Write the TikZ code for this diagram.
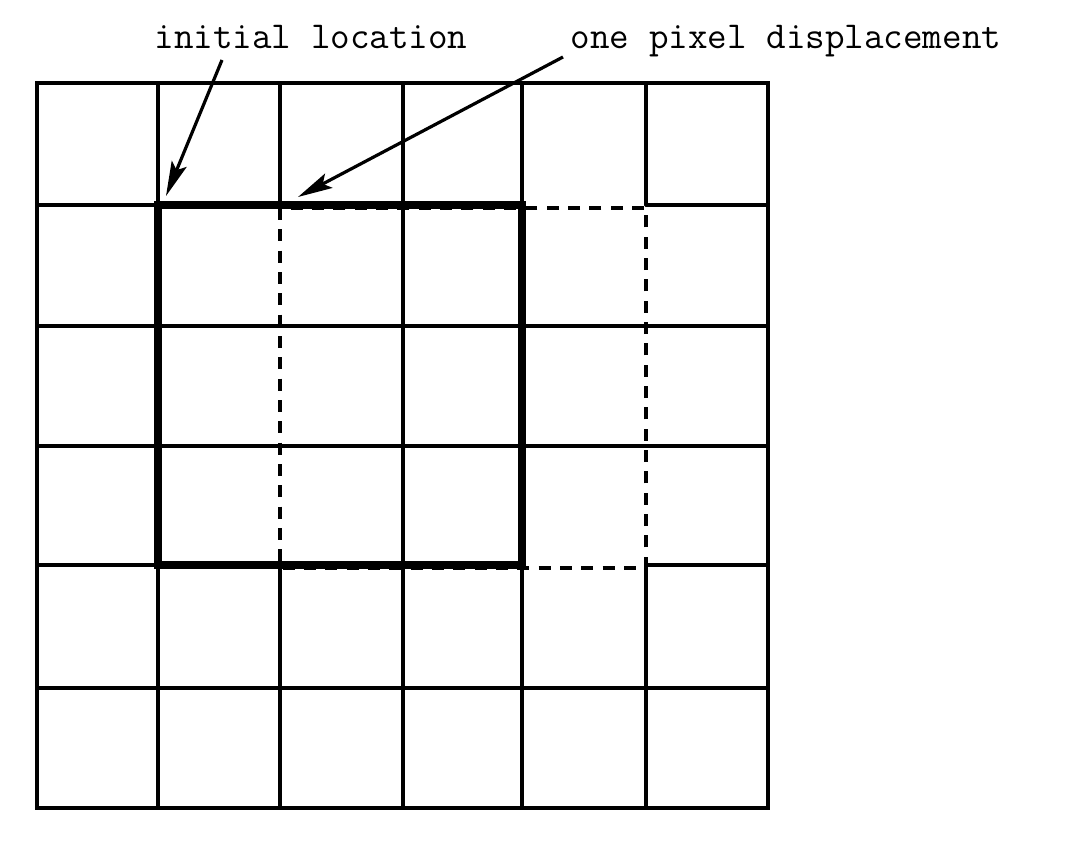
\documentclass[tikz,border=0pt]{standalone}
\usepackage{amsmath}
\usepackage{amssymb}
\usetikzlibrary{arrows.meta}

\begin{document}
\begin{tikzpicture}[x=0.75pt,y=0.75pt,yscale=-1,
  gridline/.style={line width=2.3pt,line cap=round},
  initbox/.style={line width=5.5pt,line cap=rect},
  shiftbox/.style={line width=2.5pt,dash pattern=on 9pt off 7pt},
  pointer/.style={line width=2.4pt,-{Stealth[length=26pt,width=12pt,inset=5pt]}},
  lbl/.style={font=\fontsize{28.5}{32}\selectfont\ttfamily,anchor=base,inner sep=0pt}]
%set diagram left start at 0, and has height of 842
\useasboundingbox (0,0) rectangle (1065,842);

%Shape: Grid
\draw [gridline] (37,83) -- (768,83) -- (768,808) -- (37,808) -- cycle ;
\draw [gridline] (158,83) -- (158,808)(403,83) -- (403,808)(522,83) -- (522,808) ;
\draw [gridline] (280,83) -- (280,205)(280,565) -- (280,808)(646,83) -- (646,205)(646,565) -- (646,808) ;
\draw [gridline] (37,205) -- (522,205)(646,205) -- (768,205)(37,565) -- (522,565)(646,565) -- (768,565) ;
\draw [gridline] (37,326) -- (768,326)(37,446) -- (768,446)(37,688) -- (768,688) ;

%Shape: Rectangle
\draw [initbox] (158,205) rectangle (522,565) ;
%Shape: Rectangle
\draw [shiftbox] (280,208) rectangle (646,568) ;

% Text Node
\node [lbl] (initlbl) at (311,49) {initial location};
% Text Node
\node [lbl] (displbl) at (786,49) {one pixel displacement};

\coordinate (initTail) at (222,60);
\coordinate (initTip) at (166,196);
\coordinate (dispTail) at (563,57);
\coordinate (dispTip) at (298,197);

\draw [pointer] (initTail) -- (initTip) ;
\draw [pointer] (dispTail) -- (dispTip) ;
\end{tikzpicture}
\end{document}
